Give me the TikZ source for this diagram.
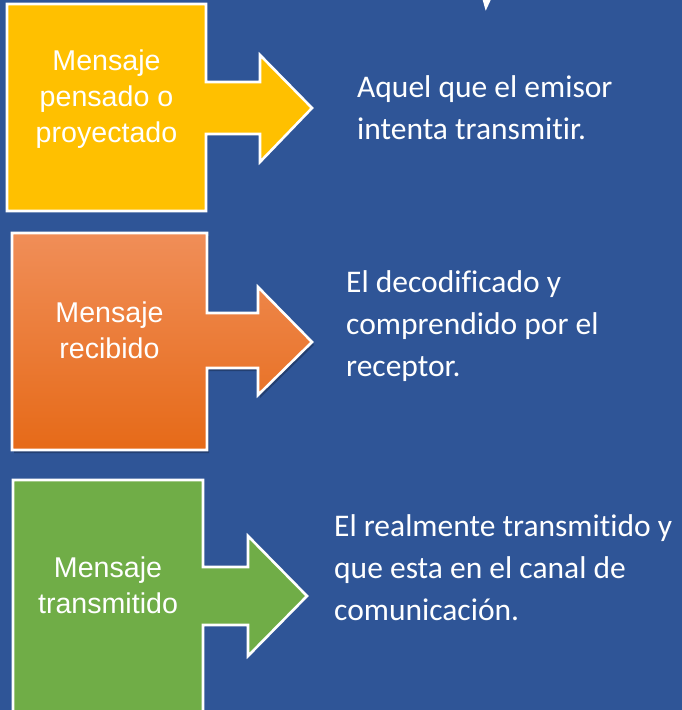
\documentclass[tikz,border=0pt]{standalone}
\usepackage{fontspec}
\setmainfont{Liberation Sans}
\newfontfamily\calib[Ligatures=NoCommon]{Carlito}
\definecolor{bgblue}{RGB}{47,85,151}
\definecolor{gold}{RGB}{255,192,0}
\definecolor{grn}{RGB}{112,173,71}
\definecolor{orTop}{RGB}{240,142,88}
\definecolor{orMid}{RGB}{245,128,48}
\definecolor{orBot}{RGB}{230,106,24}
\tikzset{
  shapeline/.style={draw=white, line width=2.6pt, line join=miter},
  boxlabel/.style={text=white, align=center, inner sep=0pt, font=\fontsize{28.6}{36}\selectfont},
  desc/.style={text=white, align=left, inner sep=0pt, anchor=north west, font=\calib\fontsize{31.5}{42}\selectfont},
}
\begin{document}
\begin{tikzpicture}[x=1pt,y=-1pt]
\fill[bgblue] (0,0) rectangle (682,710);
\useasboundingbox (0,0) rectangle (682,710);
% top mark
\fill[white] (482.7,0) -- (490.7,0) -- (485.7,10.7) -- cycle;
% box 1
\path[shapeline, fill=gold] (7,4) -- (206,4) -- (206,82) -- (260,82) -- (260,55) -- (312,108) -- (260,162) -- (260,134) -- (206,134) -- (206,211) -- (7,211) -- cycle;
% box 2 shadow
\fill[black, opacity=0.25, shift={(2,3)}] (12,233) -- (207,233) -- (207,313) -- (258,313) -- (258,287) -- (312,342) -- (258,395) -- (258,368) -- (207,368) -- (207,450) -- (12,450) -- cycle;
\shade[top color=orTop, middle color=orMid, bottom color=orBot] (12,233) -- (207,233) -- (207,313) -- (258,313) -- (258,287) -- (312,342) -- (258,395) -- (258,368) -- (207,368) -- (207,450) -- (12,450) -- cycle;
\path[shapeline] (12,233) -- (207,233) -- (207,313) -- (258,313) -- (258,287) -- (312,342) -- (258,395) -- (258,368) -- (207,368) -- (207,450) -- (12,450) -- cycle;
% box 3
\path[shapeline, fill=grn] (13,480) -- (203,480) -- (203,567) -- (248,567) -- (248,536) -- (307,596) -- (248,656) -- (248,625) -- (203,625) -- (203,716) -- (13,716) -- cycle;
% labels
\node[boxlabel] (l1) at (106.5,99) {Mensaje\\pensado o\\proyectado};
\node[boxlabel] (l2) at (109.5,330) {Mensaje\\recibido};
\node[boxlabel] (l3) at (108,585) {Mensaje\\transmitido};
% descriptions
\node[desc] (d1) at (357,75) {Aquel que el emisor\\intenta transmitir.};
\node[desc] (d2) at (346,270) {El decodificado y\\comprendido por el\\receptor.};
\node[desc] (d3) at (334,514) {El realmente transmitido y\\que esta en el canal de\\comunicación.};
\end{tikzpicture}
\end{document}
